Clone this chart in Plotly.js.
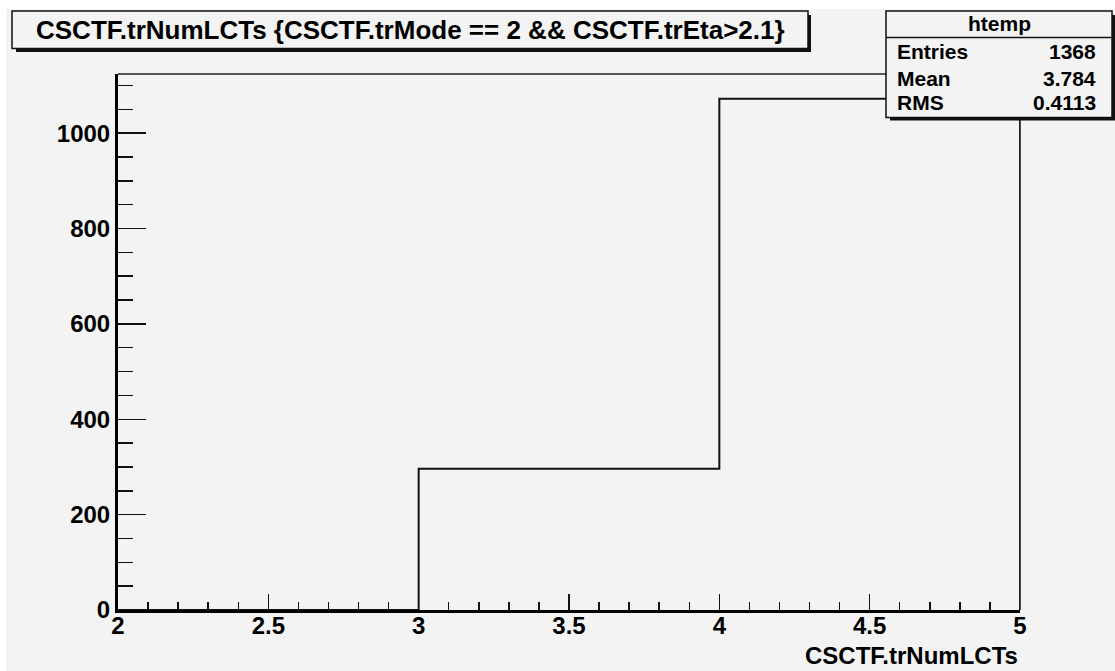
<!DOCTYPE html>
<html>
<head>
<meta charset="utf-8">
<script src="https://cdn.plot.ly/plotly-3.0.1.min.js"></script>
<style>
html,body{margin:0;padding:0;background:#ffffff;}
#chart{width:1115px;height:671px;}
</style>
</head>
<body>
<div id="chart"></div>
<script>
// ---- data ----
const binEdges = [2, 3, 4, 5];
const binCounts = [0, 296, 1072];
const chartTitle = "CSCTF.trNumLCTs {CSCTF.trMode == 2 && CSCTF.trEta>2.1}";
const xAxisTitle = "CSCTF.trNumLCTs";
const statsName = "htemp";
const statsLabels = ["Entries", "Mean", "RMS"];
const statsValues = ["1368", "3.784", "0.4113"];
const yMax = 1124;

// ---- build step outline from bins ----
const sx = [binEdges[0]], sy = [0];
for (let i = 0; i < binCounts.length; i++) {
  sx.push(binEdges[i], binEdges[i + 1]);
  sy.push(binCounts[i], binCounts[i]);
}
sx.push(binEdges[binEdges.length - 1]);
sy.push(0);

const W = 1115, H = 671;
const M = {l: 118, r: 95, t: 74, b: 61};
const PW = W - M.l - M.r, PH = H - M.t - M.b;
const ax = v => (v - M.l) / PW;
const ay = v => (H - M.b - v) / PH;

const F = "Liberation Sans, Arial, Helvetica, sans-serif";
const bold = (size) => ({family: F, size: size, color: "#000", weight: "bold"});

const trace = {
  x: sx, y: sy, type: "scatter", mode: "lines",
  line: {color: "#111", width: 2, shape: "linear"},
  hoverinfo: "skip", showlegend: false
};

const shapes = [
  {type: "rect", xref: "paper", yref: "paper", x0: ax(6), x1: ax(1115), y0: ay(9), y1: ay(671),
   fillcolor: "#f3f3f3", line: {width: 0}, layer: "below"},
  {type: "line", xref: "paper", yref: "paper", x0: 0, x1: 1, y0: 1, y1: 1, line: {color: "#222", width: 1.6}},
  {type: "line", xref: "paper", yref: "paper", x0: 1, x1: 1, y0: 0, y1: 1, line: {color: "#222", width: 1.6}},
  {type: "rect", xref: "paper", yref: "paper", x0: ax(16), x1: ax(811), y0: ay(52), y1: ay(15),
   fillcolor: "#111", line: {width: 0}},
  {type: "rect", xref: "paper", yref: "paper", x0: ax(12), x1: ax(808), y0: ay(48.5), y1: ay(11),
   fillcolor: "#f3f3f3", line: {color: "#111", width: 1.5}},
  {type: "rect", xref: "paper", yref: "paper", x0: ax(890), x1: ax(1115), y0: ay(120.5), y1: ay(15),
   fillcolor: "#111", line: {width: 0}},
  {type: "rect", xref: "paper", yref: "paper", x0: ax(886), x1: ax(1112), y0: ay(117.5), y1: ay(11),
   fillcolor: "#f3f3f3", line: {color: "#111", width: 1.5}},
  {type: "line", xref: "paper", yref: "paper", x0: ax(886), x1: ax(1112), y0: ay(37.5), y1: ay(37.5),
   line: {color: "#111", width: 1.5}}
];

const annotations = [
  {xref: "paper", yref: "paper", x: ax(410), y: ay(30), text: chartTitle, showarrow: false,
   xanchor: "center", yanchor: "middle", font: bold(26)},
  {xref: "paper", yref: "paper", x: ax(1020), y: ay(655), text: xAxisTitle, showarrow: false,
   xanchor: "right", yanchor: "middle", font: bold(24)},
  {xref: "paper", yref: "paper", x: ax(999), y: ay(23), text: statsName, showarrow: false,
   xanchor: "center", yanchor: "middle", font: bold(21)}
];
const rowY = [52, 78, 103];
for (let i = 0; i < statsLabels.length; i++) {
  annotations.push({xref: "paper", yref: "paper", x: ax(895), y: ay(rowY[i]), text: statsLabels[i],
    showarrow: false, xanchor: "left", yanchor: "middle", font: bold(21)});
  annotations.push({xref: "paper", yref: "paper", x: ax(1098), y: ay(rowY[i]), text: statsValues[i],
    showarrow: false, xanchor: "right", yanchor: "middle", font: bold(21)});
}

const layout = {
  width: W, height: H,
  margin: M,
  paper_bgcolor: "#ffffff",
  plot_bgcolor: "rgba(0,0,0,0)",
  showlegend: false,
  xaxis: {
    range: [binEdges[0], binEdges[binEdges.length - 1]],
    showgrid: false, zeroline: false,
    showline: true, linecolor: "#000", linewidth: 3,
    ticks: "inside", ticklen: 16, tickwidth: 1.5, tickcolor: "#111",
    dtick: 0.5, tick0: 2,
    minor: {ticks: "inside", ticklen: 8, dtick: 0.1, tick0: 2, tickwidth: 1.5, tickcolor: "#111", showgrid: false},
    tickfont: bold(24),
    ticklabelstandoff: -8,
    fixedrange: true
  },
  yaxis: {
    range: [0, yMax],
    showgrid: false, zeroline: false,
    showline: true, linecolor: "#000", linewidth: 3,
    ticks: "inside", ticklen: 28, tickwidth: 1.5, tickcolor: "#111",
    dtick: 200, tick0: 0,
    minor: {ticks: "inside", ticklen: 15, dtick: 50, tick0: 0, tickwidth: 1.5, tickcolor: "#111", showgrid: false},
    tickfont: bold(24),
    fixedrange: true
  },
  shapes: shapes,
  annotations: annotations
};

Plotly.newPlot("chart", [trace], layout, {displayModeBar: false, staticPlot: true});
</script>
</body>
</html>
